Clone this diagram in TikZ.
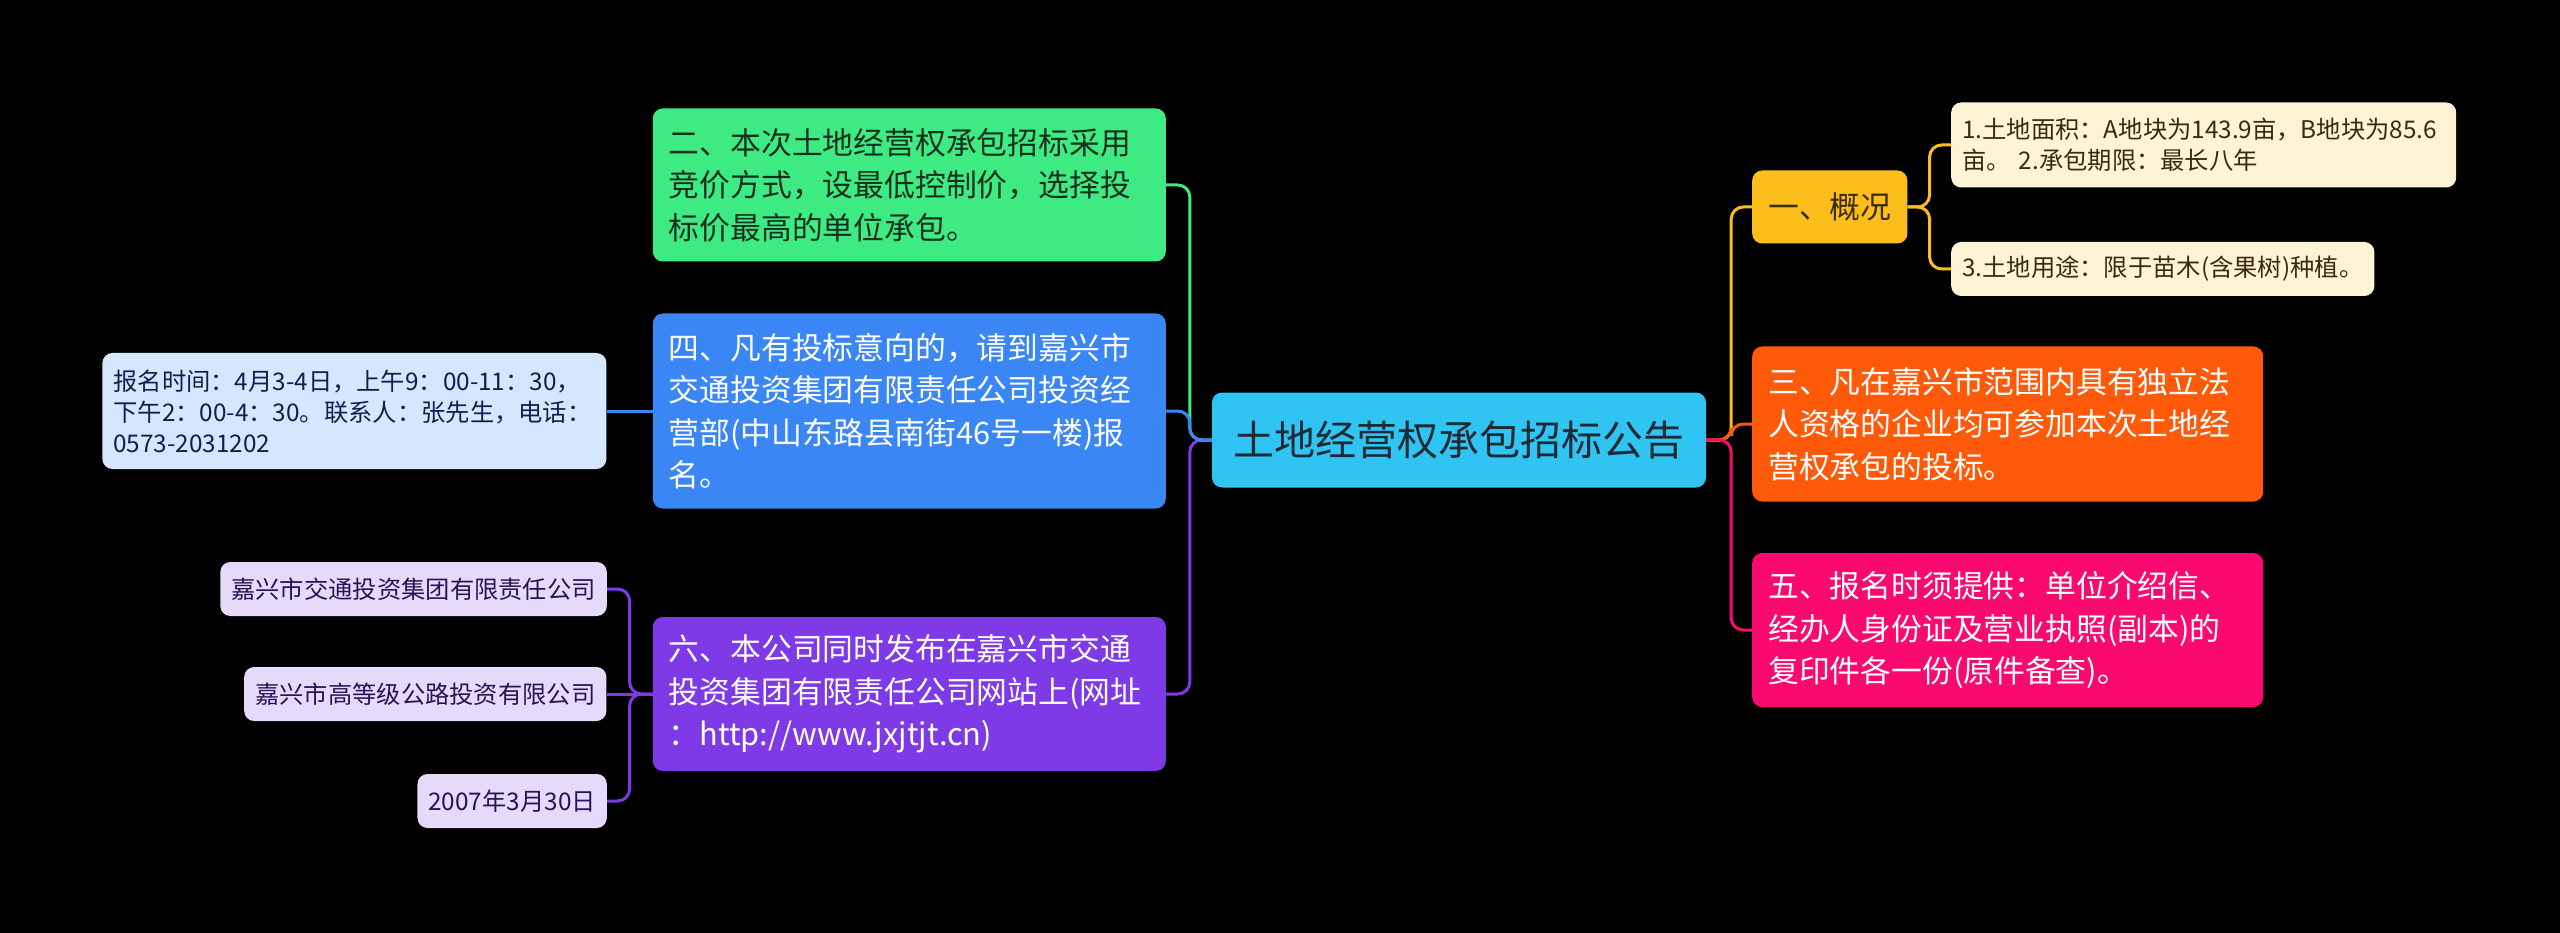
\documentclass[tikz,border=0pt]{standalone}
\usepackage{fontspec}
\setmainfont{Noto Sans CJK SC}
\usetikzlibrary{positioning}
\definecolor{bg}{RGB}{0,0,0}
\definecolor{rootc}{RGB}{48,196,242}
\definecolor{roottxt}{RGB}{30,42,52}
\definecolor{greenc}{RGB}{62,235,130}
\definecolor{greentxt}{RGB}{22,48,32}
\definecolor{bluec}{RGB}{58,134,245}
\definecolor{purplec}{RGB}{126,58,230}
\definecolor{lbluec}{RGB}{214,230,255}
\definecolor{lbluetxt}{RGB}{14,32,80}
\definecolor{lavc}{RGB}{230,218,250}
\definecolor{lavtxt}{RGB}{42,18,84}
\definecolor{yellowc}{RGB}{251,190,26}
\definecolor{yellowtxt}{RGB}{58,42,6}
\definecolor{creamc}{RGB}{255,243,214}
\definecolor{creamtxt}{RGB}{58,42,10}
\definecolor{orangec}{RGB}{255,90,10}
\definecolor{pinkc}{RGB}{250,10,110}
\tikzset{
  box/.style={rounded corners=10pt, align=left, inner sep=0pt, inner xsep=16pt},
  branch/.style={box, text width=481pt, font=\fontsize{30.8}{42.5}\selectfont},
  leaf/.style={box, inner xsep=11pt, font=\fontsize{24.3}{31}\selectfont},
  link/.style={line width=3pt, rounded corners=12pt}
}
\begin{document}
\begin{tikzpicture}[x=1pt, y=-1pt, node distance=46pt]
    \path[use as bounding box, fill=bg] (0,0) rectangle (2560,933);

    \node (root) [box, fill=rootc, text=roottxt, align=center, minimum width=494pt, minimum height=95pt, font=\fontsize{41}{48}\selectfont] at (1459,440) {土地经营权承包招标公告};

    \node (sec2) [branch, fill=greenc, text=greentxt, minimum height=153pt, anchor=east] at (1166,185) {二、本次土地经营权承包招标采用\\竞价方式，设最低控制价，选择投\\标价最高的单位承包。};
    \node (sec4) [branch, fill=bluec, text=white, minimum height=195pt, anchor=east] at (1166,411) {四、凡有投标意向的，请到嘉兴市\\交通投资集团有限责任公司投资经\\营部(中山东路县南街46号一楼)报\\名。};
    \node (sec6) [branch, fill=purplec, text=white, minimum height=154pt, anchor=east] at (1166,694) {六、本公司同时发布在嘉兴市交通\\投资集团有限责任公司网站上(网址\\：http://www.jxjtjt.cn)};

    \node (reg) [leaf, fill=lbluec, text=lbluetxt, text width=482pt, minimum height=116pt, left=of sec4] {报名时间：4月3-4日，上午9：00-11：30，\\下午2：00-4：30。联系人：张先生，电话：\\0573-2031202};
    \node (co1) [leaf, fill=lavc, text=lavtxt, minimum height=54pt, anchor=east] at (607,589) {嘉兴市交通投资集团有限责任公司};
    \node (co2) [leaf, fill=lavc, text=lavtxt, minimum height=54pt, left=of sec6] {嘉兴市高等级公路投资有限公司};
    \node (date) [leaf, fill=lavc, text=lavtxt, minimum height=54pt, anchor=east] at (607,801) {2007年3月30日};

    \node (sec1) [box, fill=yellowc, text=yellowtxt, align=center, minimum width=154pt, minimum height=73pt, font=\fontsize{30.8}{42.5}\selectfont, anchor=west] at (1752,207) {一、概况};
    \node (area) [leaf, fill=creamc, text=creamtxt, text width=483pt, minimum height=85pt, anchor=west] at (1951,145) {1.土地面积：A地块为143.9亩，B地块为85.6\\亩。 2.承包期限：最长八年};
    \node (use) [leaf, fill=creamc, text=creamtxt, minimum height=54pt, anchor=west] at (1951,269) {3.土地用途：限于苗木(含果树)种植。};
    \node (sec3) [branch, fill=orangec, text=white, text width=479pt, minimum height=155pt, anchor=west] at (1752,424) {三、凡在嘉兴市范围内具有独立法\\人资格的企业均可参加本次土地经\\营权承包的投标。};
    \node (sec5) [branch, fill=pinkc, text=white, text width=479pt, minimum height=154pt, anchor=west] at (1752,630) {五、报名时须提供：单位介绍信、\\经办人身份证及营业执照(副本)的\\复印件各一份(原件备查)。};

    \draw[link, purplec] (root.west) -- ++(-22,0) |- (sec6.east);
    \draw[link, greenc] (root.west) -- ++(-22,0) |- (sec2.east);
    \draw[link, bluec] (root.west) -- ++(-22,0) |- (sec4.east);
    \draw[link, bluec] (sec4.west) -- (reg.east);
    \draw[link, purplec] (sec6.west) -- ++(-23,0) |- (co1.east);
    \draw[link, purplec] (sec6.west) -- ++(-23,0) |- (date.east);
    \draw[link, purplec] (sec6.west) -- (co2.east);

    \draw[link, yellowc] (root.east) -- ++(25,0) |- (sec1.west);
    \draw[link, orangec] (root.east) -- ++(25,0) |- (sec3.west);
    \draw[link, pinkc] (root.east) -- ++(25,0) |- (sec5.west);
    \draw[link, yellowc] (sec1.east) -- ++(22,0) |- (area.west);
    \draw[link, yellowc] (sec1.east) -- ++(22,0) |- (use.west);
\end{tikzpicture}
\end{document}
